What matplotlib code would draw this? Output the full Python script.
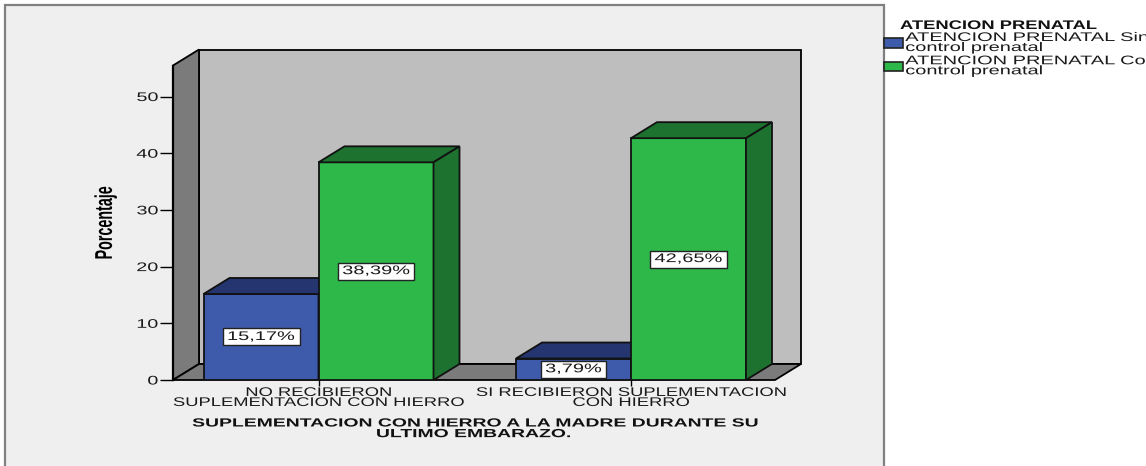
from matplotlib import pyplot as plt
from matplotlib.patches import Patch, Polygon, Rectangle
from matplotlib.patheffects import AbstractPathEffect
from matplotlib.transforms import Affine2D

plt.rcParams['font.family'] = 'Liberation Sans'

# data
categories = ['NO RECIBIERON\nSUPLEMENTACION CON HIERRO', 'SI RECIBIERON SUPLEMENTACION\nCON HIERRO']
sin_control = [15.17, 3.79]
con_control = [38.39, 42.65]
y_ticks = [0, 10, 20, 30, 40, 50]
series_names = ['ATENCION PRENATAL Sin\ncontrol prenatal', 'ATENCION PRENATAL Con\ncontrol prenatal']
legend_title = 'ATENCION PRENATAL'
x_title = 'SUPLEMENTACION CON HIERRO A LA MADRE DURANTE SU\nULTIMO EMBARAZO.'
y_title = 'Porcentaje'

BLUE, BLUE_DARK = '#3e5aab', '#24356f'
GREEN, GREEN_DARK = '#2eb84a', '#1c722e'
WALL, WALL_DARK = '#bebebe', '#7b7b7b'
TEXT = '#1a1a1a'


# the original text is stretched sideways, this keeps it as real text
class StretchX(AbstractPathEffect):
    def __init__(self, text, sx):
        super().__init__()
        self.text = text
        self.sx = sx

    def draw_path(self, renderer, gc, tpath, affine, rgbFace=None):
        cx = self.text.get_transform().transform(self.text.get_position())[0]
        stretch = Affine2D().translate(-cx, 0).scale(self.sx, 1).translate(cx, 0)
        renderer.draw_path(gc, tpath, affine + stretch, rgbFace)


def widen(text, sx):
    text.set_path_effects([StretchX(text, sx)])


W, H = 1146, 466
fig = plt.figure(figsize=(W / 100, H / 100), dpi=100, facecolor='white')

# grey panel behind the chart
fig.add_artist(Rectangle((5 / W, -0.02), 879 / W, 1.02 - 5.5 / H, transform=fig.transFigure,
                         facecolor='#efefef', edgecolor='#808080', linewidth=1.6, zorder=-1))

# axes = the back wall box seen from the front left corner
left, right, top, bottom = 173, 801, 49.5, 380
ax = fig.add_axes([left / W, 1 - bottom / H, (right - left) / W, (bottom - top) / H])
ax.patch.set_alpha(0)
x_unit = 312.5   # pixels between categories
y_unit = 5.67    # pixels per percent
ax.set_xlim((left - 318.5) / x_unit, (right - 318.5) / x_unit)
ax.set_ylim(0, (bottom - top) / y_unit)

dx = 26 / x_unit   # depth of the 3d effect
dy = 16 / y_unit
x0, x1 = ax.get_xlim()
y1 = ax.get_ylim()[1]

# walls and floor
ax.add_patch(Polygon([(x0 + dx, dy), (x1, dy), (x1, y1), (x0 + dx, y1)], facecolor=WALL,
                     edgecolor='black', linewidth=1.3, clip_on=False, zorder=1))
ax.add_patch(Polygon([(x0, 0), (x0 + dx, dy), (x0 + dx, y1), (x0, y1 - dy)], facecolor=WALL_DARK,
                     edgecolor='black', linewidth=1.3, clip_on=False, zorder=1))
ax.add_patch(Polygon([(x0, 0), (x0 + dx, dy), (x1, dy), (x1 - dx, 0)], facecolor=WALL_DARK,
                     edgecolor='black', linewidth=1.3, clip_on=False, zorder=1))

renderer = fig.canvas.get_renderer()


def bar3d(x, width, value, color, dark, z):
    ax.bar(x, value, width, align='edge', color=color, edgecolor='#111111', linewidth=1.3, zorder=z)
    ax.add_patch(Polygon([(x, value), (x + dx, value + dy), (x + width + dx, value + dy), (x + width, value)],
                         facecolor=dark, edgecolor='#111111', linewidth=1.3, zorder=z))
    ax.add_patch(Polygon([(x + width, 0), (x + width + dx, dy), (x + width + dx, value + dy), (x + width, value)],
                         facecolor=dark, edgecolor='#111111', linewidth=1.3, zorder=z))
    xc = x + width / 2
    yc = value / 2
    label = ax.text(xc, yc, f'{value:.2f}'.replace('.', ',') + '%', ha='center', va='center',
                    fontsize=9, color=TEXT, zorder=z + 2)
    widen(label, LABEL_SX)
    # white box, sized on the stretched text
    box_w = (label.get_window_extent(renderer).width * LABEL_SX + 9) / x_unit
    box_h = 17 / y_unit
    ax.add_patch(Rectangle((xc - box_w / 2, yc - box_h / 2), box_w, box_h, facecolor='white',
                           edgecolor='#222222', linewidth=1, zorder=z + 1))


LABEL_SX = 1.6
bar_w = 115 / x_unit
for i in range(len(categories)):
    bar3d(i - bar_w, bar_w, sin_control[i], BLUE, BLUE_DARK, 2 + i * 10)
    bar3d(i, bar_w, con_control[i], GREEN, GREEN_DARK, 6 + i * 10)

# axis
for name in ['top', 'right', 'bottom']:
    ax.spines[name].set_visible(False)
ax.spines['left'].set_bounds(0, y1 - dy)
ax.spines['left'].set_linewidth(1.6)
ax.spines['left'].set_zorder(3)
ax.set_yticks(y_ticks)
ax.tick_params(axis='y', length=9.5, width=1, labelsize=9, labelcolor=TEXT, pad=1)
ax.set_xticks(range(len(categories)))
ax.set_xticklabels(categories, fontsize=9, color=TEXT, linespacing=0.78)
ax.tick_params(axis='x', length=4.5, width=1, pad=0.5)
for t in ax.get_yticklabels():
    widen(t, 1.58)
for t in ax.get_xticklabels():
    widen(t, 1.47)

ax.set_ylabel(y_title, fontsize=10.3, fontweight='bold')
ax.yaxis.set_label_coords((117 - left) / (right - left), (bottom - 223) / (bottom - top))
widen(ax.yaxis.label, 1.7)
ax.set_xlabel(x_title, fontsize=8.5, fontweight='bold', color='#111111', linespacing=0.85)
ax.xaxis.set_label_coords((473 - left) / (right - left), (bottom - 417.5) / (bottom - top))
widen(ax.xaxis.label, 1.64)

# legend
title = fig.text(900 / W, 1 - 26 / H, legend_title, fontsize=9, fontweight='bold', va='center', color='#111111')
widen(title, 1.47)
handles = [Patch(facecolor=BLUE, edgecolor='#222222', linewidth=1.2),
           Patch(facecolor=GREEN, edgecolor='#222222', linewidth=1.2)]
legend = fig.legend(handles, series_names, loc='upper left', bbox_to_anchor=(884 / W, 1 - 32 / H), frameon=False,
                    fontsize=9, borderpad=0, borderaxespad=0, handlelength=1.5, handleheight=0.8,
                    handletextpad=0.2, labelspacing=0.1, labelcolor=TEXT)
for t in legend.get_texts():
    t.set_linespacing(0.78)
    widen(t, 1.6)

fig.savefig('out.png', dpi=100)
